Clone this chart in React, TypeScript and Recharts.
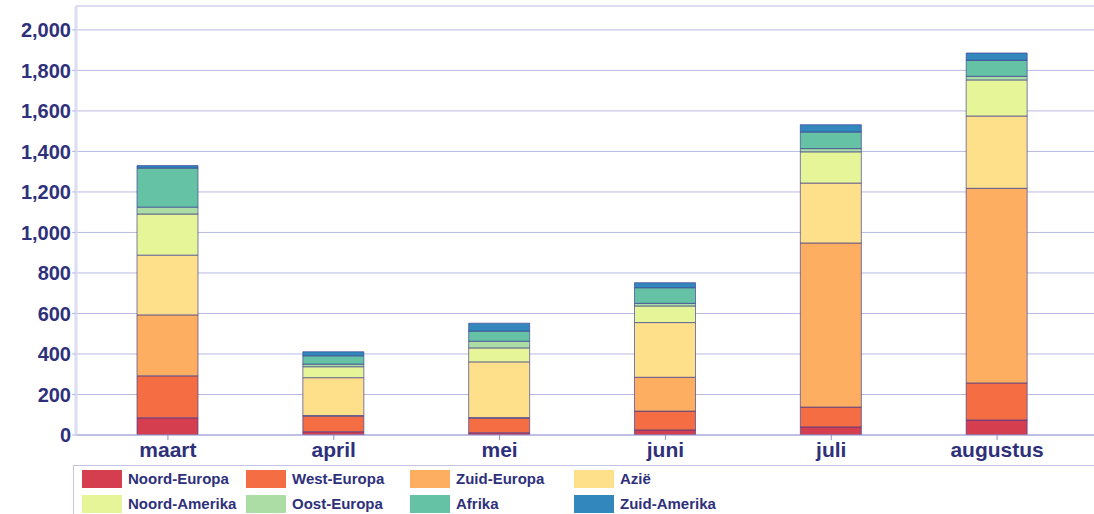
import React from "react";
import { Bar, BarChart, CartesianGrid, Legend, XAxis, YAxis } from "recharts";

const months = ["maart", "april", "mei", "juni", "juli", "augustus"];

const noordEuropa = [85, 16, 11, 25, 40, 74];
const westEuropa = [207, 77, 72, 93, 98, 183];
const zuidEuropa = [301, 3, 3, 167, 810, 961];
const azie = [295, 187, 275, 270, 296, 357];
const noordAmerika = [203, 54, 69, 82, 154, 178];
const oostEuropa = [34, 13, 33, 13, 16, 18];
const afrika = [193, 41, 50, 77, 82, 79];
const zuidAmerika = [12, 20, 39, 25, 36, 36];

const yTicks = [0, 200, 400, 600, 800, 1000, 1200, 1400, 1600, 1800, 2000];

const series = [
  { key: "Noord-Europa", values: noordEuropa, color: "#d53e4f" },
  { key: "West-Europa", values: westEuropa, color: "#f46d43" },
  { key: "Zuid-Europa", values: zuidEuropa, color: "#fdae61" },
  { key: "Azië", values: azie, color: "#fee08b" },
  { key: "Noord-Amerika", values: noordAmerika, color: "#e6f598" },
  { key: "Oost-Europa", values: oostEuropa, color: "#abdda4" },
  { key: "Afrika", values: afrika, color: "#66c2a5" },
  { key: "Zuid-Amerika", values: zuidAmerika, color: "#3288bd" },
];

const data = months.map((m, i) => {
  const row: Record<string, number | string> = { month: m };
  for (const s of series) row[s.key] = s.values[i];
  return row;
});

const navy = "#2e307a";
const font = "'Liberation Sans', Arial, sans-serif";

function LegendBox() {
  return (
    <div
      style={{
        border: "1px solid #c4c4e2",
        borderRight: "none",
        borderBottom: "none",
        width: 1021,
        height: 50,
        boxSizing: "border-box",
        display: "grid",
        gridTemplateColumns: "164px 164px 164px 164px",
        gridAutoRows: "25px",
        paddingLeft: 8,
        paddingTop: 0,
        fontFamily: font,
        fontWeight: 700,
        fontSize: 15,
        color: navy,
      }}
    >
      {series.map((s) => (
        <div key={s.key} style={{ display: "flex", alignItems: "center" }}>
          <span
            style={{
              display: "inline-block",
              width: 40,
              height: 18,
              background: s.color,
              marginRight: 6,
            }}
          />
          <span>{s.key}</span>
        </div>
      ))}
    </div>
  );
}

export default function App() {
  return (
    <div style={{ position: "absolute", left: 0, top: 0, background: "#fff" }}>
      <BarChart
        width={1094}
        height={514}
        data={data}
        margin={{ top: 6, right: 0, bottom: 49, left: 0 }}
      >
        <CartesianGrid vertical={false} stroke="#b9b9e2" strokeWidth={1} />
        <XAxis
          dataKey="month"
          height={30}
          padding={{ left: 9, right: 14 }}
          axisLine={{ stroke: "#a3a3d6" }}
          tickLine={{ stroke: "#8f8fc8" }}
          tickSize={5}
          tick={{ fill: navy, fontSize: 21, fontWeight: 700, fontFamily: font }}
          interval={0}
        />
        <YAxis
          width={76}
          domain={[0, 2118]}
          ticks={yTicks}
          allowDataOverflow
          tickFormatter={(v: number) => v.toLocaleString("en-US")}
          axisLine={{ stroke: "#dcdcf2", strokeWidth: 3 }}
          tickLine={{ stroke: "#b9b9e2" }}
          tickSize={4}
          tickMargin={1}
          tick={{ fill: navy, fontSize: 20, fontWeight: 700, fontFamily: font }}
        />
        <Legend
          layout="horizontal"
          verticalAlign="middle"
          align="center"
          wrapperStyle={{ top: 465, left: 73, width: 1021 }}
          content={() => <LegendBox />}
        />
        {series.map((s) => (
          <Bar
            key={s.key}
            dataKey={s.key}
            stackId="a"
            fill={s.color}
            stroke="#3b3b90"
            strokeOpacity={0.65}
            strokeWidth={1}
            barSize={61}
            isAnimationActive={false}
          />
        ))}
      </BarChart>
    </div>
  );
}
